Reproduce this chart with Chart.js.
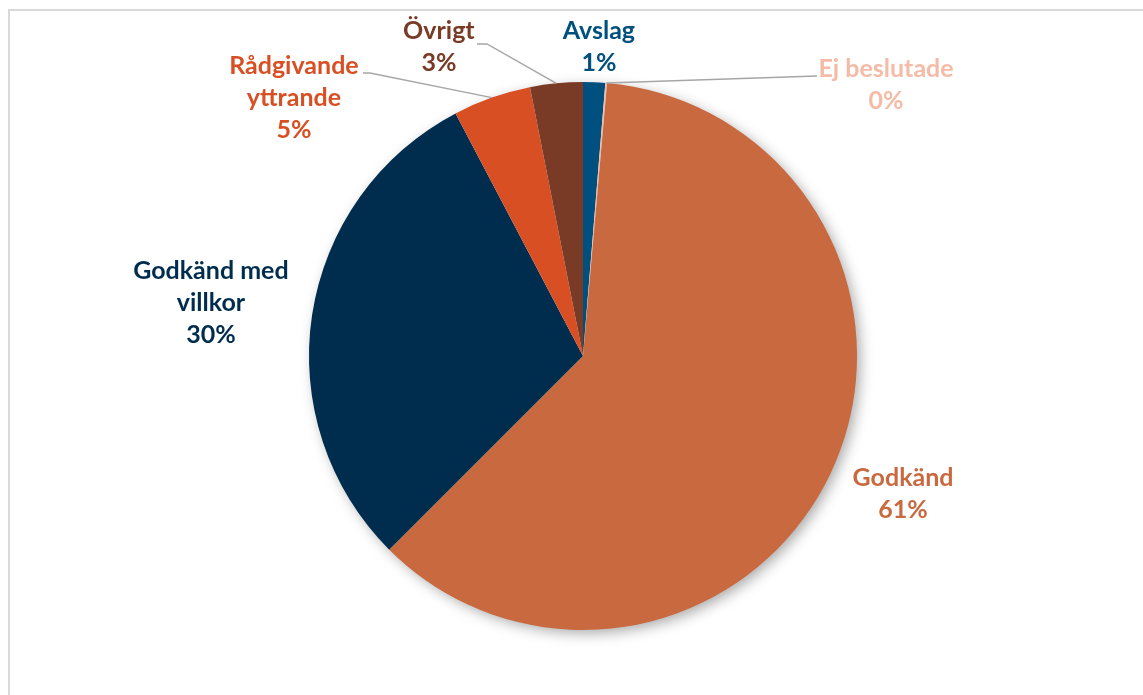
<!DOCTYPE html>
<html lang="sv">
<head>
    <meta charset="UTF-8">
    <title>Beslut</title>
    <style>
        html, body { margin: 0; padding: 0; background: #fff; }
        .ram {
            position: absolute;
            left: 8px;
            top: 9px;
            width: 1200px;
            height: 750px;
            border-left: 2px solid #d9d9d9;
            border-top: 2px solid #d9d9d9;
        }
        .wrap {
            position: absolute;
            left: 0;
            top: 0;
            width: 1143px;
            height: 695px;
        }
    </style>
    <script src="https://cdn.jsdelivr.net/npm/chart.js"></script>
</head>
<body>
    <div class="ram"></div>
    <div class="wrap"><canvas id="diagram"></canvas></div>

    <script>
        // data, medurs från kl 12
        const kategorier = ["Avslag", "Ej beslutade", "Godkänd", "Godkänd med villkor", "Rådgivande yttrande", "Övrigt"];
        const andelar = [1.3, 0.1, 61.1, 29.8, 4.6, 3.1];
        const etikettRader = [["Avslag"], ["Ej beslutade"], ["Godkänd"], ["Godkänd med", "villkor"], ["Rådgivande", "yttrande"], ["Övrigt"]];

        const farger = ["#00507f", "#f4bba6", "#c8693f", "#002d4e", "#d94f24", "#7a3b26"];

        // etikettplacering i radie-enheter från mitten; linje = startpunkt för hänvisningslinje
        const placering = [
            { x: 0.058, y: -1.128 },
            { x: 1.106, y: -0.989, linje: { x: 0.854, y: -1.022, kort: 0 } },
            { x: 1.168, y: 0.504 },
            { x: -1.358, y: -0.193 },
            { x: -1.055, y: -0.942, linje: { x: -0.803, y: -1.033, kort: 7 } },
            { x: -0.526, y: -1.128, linje: { x: -0.387, y: -1.139, kort: 10 } }
        ];

        const skugga = {
            id: 'skugga',
            beforeDatasetsDraw(chart) {
                const arc = chart.getDatasetMeta(0).data[0];
                if (!arc) return;
                const c = chart.ctx;
                c.save();
                c.shadowColor = 'rgba(0,0,0,0.35)';
                c.shadowBlur = 14;
                c.shadowOffsetX = 4;
                c.shadowOffsetY = 4;
                c.fillStyle = '#ffffff';
                c.beginPath();
                c.arc(arc.x, arc.y, arc.outerRadius - 1, 0, Math.PI * 2);
                c.fill();
                c.restore();
            }
        };

        const etiketter = {
            id: 'etiketter',
            afterDatasetsDraw(chart) {
                const c = chart.ctx;
                const meta = chart.getDatasetMeta(0);
                const total = andelar.reduce((a, b) => a + b, 0);
                const fontSize = 25;
                const radhojd = 32;
                c.save();
                c.font = 'bold ' + fontSize + 'px Lato, "Open Sans", sans-serif';
                c.textAlign = 'center';
                c.textBaseline = 'middle';
                meta.data.forEach((arc, i) => {
                    const p = placering[i];
                    const cx = arc.x + p.x * arc.outerRadius;
                    const cy = arc.y + p.y * arc.outerRadius;
                    const rader = etikettRader[i].concat([Math.round(andelar[i] / total * 100) + '%']);
                    const y0 = cy - (rader.length - 1) * radhojd / 2;
                    c.fillStyle = farger[i];
                    rader.forEach((t, k) => c.fillText(t, cx, y0 + k * radhojd));

                    if (p.linje) {
                        const mid = (arc.startAngle + arc.endAngle) / 2;
                        const ex = arc.x + Math.cos(mid) * arc.outerRadius;
                        const ey = arc.y + Math.sin(mid) * arc.outerRadius;
                        const sx = arc.x + p.linje.x * arc.outerRadius;
                        const sy = arc.y + p.linje.y * arc.outerRadius;
                        const dir = ex > sx ? 1 : -1;
                        c.strokeStyle = '#a6a6a6';
                        c.lineWidth = 1.5;
                        c.beginPath();
                        c.moveTo(sx, sy);
                        c.lineTo(sx + dir * p.linje.kort, sy);
                        c.lineTo(ex, ey);
                        c.stroke();
                    }
                });
                c.restore();
            }
        };

        new Chart(document.getElementById('diagram'), {
            type: 'pie',
            data: {
                labels: kategorier,
                datasets: [{
                    data: andelar,
                    backgroundColor: farger,
                    borderWidth: 0
                }]
            },
            options: {
                responsive: true,
                maintainAspectRatio: false,
                animation: false,
                layout: { padding: { top: 82, bottom: 65, left: 200, right: 177 } },
                plugins: {
                    legend: { display: false },
                    tooltip: { enabled: false }
                }
            },
            plugins: [skugga, etiketter]
        });
    </script>
</body>
</html>
